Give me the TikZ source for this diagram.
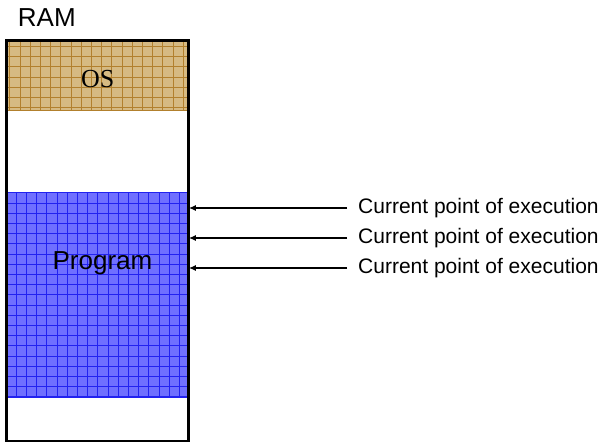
\documentclass[tikz,border=0pt]{standalone}
\usepackage{fontspec}
\setmainfont{Liberation Sans}
\newfontfamily\timesfont{Liberation Serif}
\usepackage{xcolor}
\usetikzlibrary{positioning}
\usetikzlibrary{arrows.meta}
\definecolor{ostan}{RGB}{214,186,130}
\definecolor{osline}{RGB}{178,128,45}
\definecolor{progblue}{RGB}{112,112,255}
\definecolor{progline}{RGB}{35,35,240}
\tikzset{
  block/.style={minimum width=182pt, minimum height=#1, inner sep=0pt, outer sep=0pt},
  gridfill/.style 2 args={fill=#1, draw=#2, path picture={
      \draw[#2, line width=0.8pt, step=10.2pt]
        (path picture bounding box.south west) grid (path picture bounding box.north east);}},
  memory/.style={draw, line width=3pt, minimum width=182pt, minimum height=400.5pt, inner sep=0pt, outer sep=0pt},
  execlabel/.style={anchor=west, inner xsep=11pt, inner ysep=0pt, font=\fontsize{21}{21}\selectfont},
  execarrow/.style={line width=2pt, -{Latex[length=7pt,width=6pt]}}
}

\begin{document}
\begin{tikzpicture}[x=1pt, y=-1pt, node distance=82.5pt]
  \useasboundingbox (0,0) rectangle (606,442);
  \node (OS) [block=69.5pt, gridfill={ostan}{osline}, text height=24pt, text depth=0pt, font=\timesfont\fontsize{26}{26}\selectfont] at (97.75,75.25) {OS};
  \node (Prog) [block=204.5pt, gridfill={progblue}{progline}, below=of OS] {};
  \node (ProgName) [anchor=base, inner sep=0pt, font=\fontsize{26}{26}\selectfont] at ([xshift=4.75pt, yshift=25.75pt]Prog.center) {Program};
  \node (Mem) [memory, anchor=north] at (OS.north) {};
  \node (RAM) [above right=13.5pt and 11pt of Mem.north west, inner sep=0pt, font=\fontsize{26}{26}\selectfont] {RAM};
  \node (ExecA) [execlabel] at (347,208) {Current point of execution};
  \node (ExecB) [execlabel, below=30pt of ExecA.west, anchor=west] {Current point of execution};
  \node (ExecC) [execlabel, below=30pt of ExecB.west, anchor=west] {Current point of execution};
  \draw[execarrow] (ExecA.west) -- (ExecA.west -| Mem.east);
  \draw[execarrow] (ExecB.west) -- (ExecB.west -| Mem.east);
  \draw[execarrow] (ExecC.west) -- (ExecC.west -| Mem.east);
\end{tikzpicture}
\end{document}
